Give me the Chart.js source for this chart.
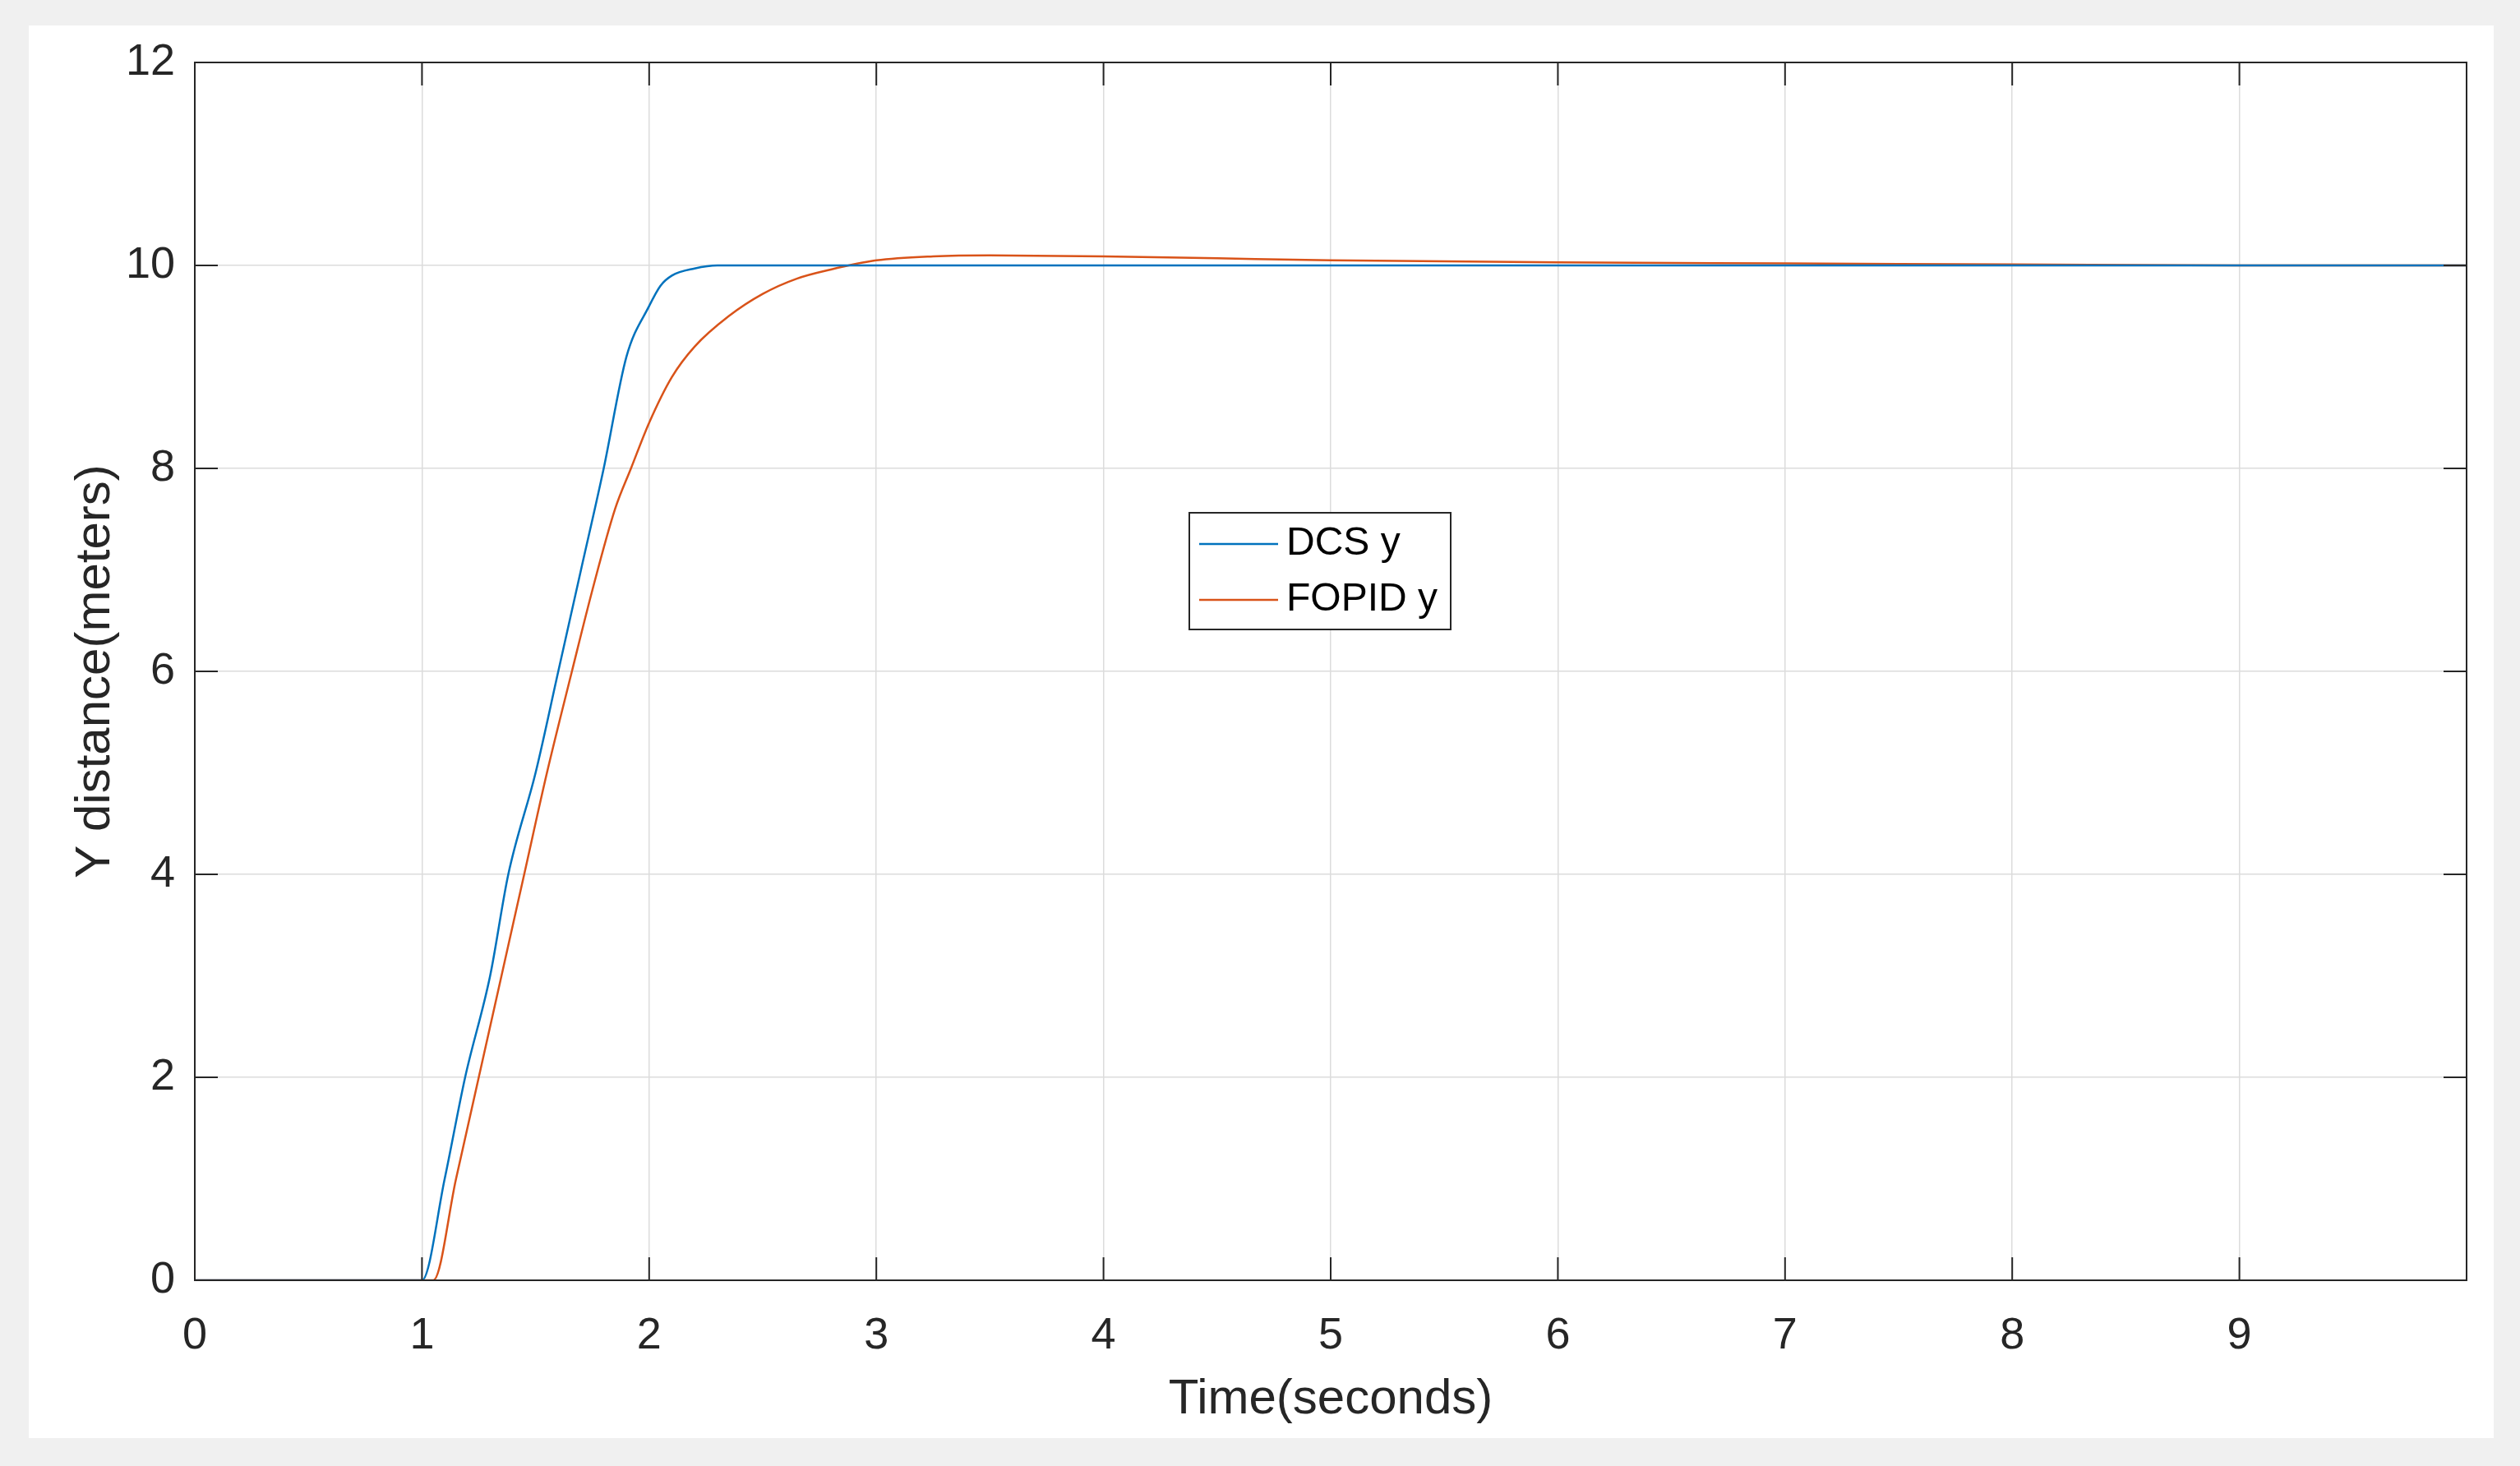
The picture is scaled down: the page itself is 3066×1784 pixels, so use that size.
<!DOCTYPE html>
<html><head><meta charset="utf-8">
<script src="https://cdn.jsdelivr.net/npm/chart.js@4"></script>
<style>html,body{margin:0;padding:0;background:#f0f0f0;overflow:hidden}canvas{display:block}</style>
</head><body>
<canvas id="c" width="3066" height="1784"></canvas>
<script>
const dcsT = [0, 0.99, 1.0, 1.1, 1.19, 1.3, 1.38, 1.5, 1.6, 1.7, 1.8, 1.9, 2.0, 2.05, 2.1, 2.2, 2.3, 2.5, 3, 4, 5, 6, 7, 8, 9, 10];
const dcsY = [0, 0, 0, 1.0, 2.0, 3.0, 4.0, 5.0, 6.0, 7.0, 8.0, 9.1, 9.6, 9.8, 9.9, 9.97, 10.0, 10.0, 10.0, 10.0, 10.0, 10.0, 10.0, 10.0, 10.0, 10.0];
const fopT = [0, 1.04, 1.05, 1.15, 1.25, 1.35, 1.45, 1.55, 1.66, 1.75, 1.85, 1.92, 2.0, 2.1, 2.2, 2.35, 2.5, 2.65, 2.8, 3.0, 3.25, 3.5, 4, 4.5, 5, 6, 7, 8, 9, 10];
const fopY = [0, 0, 0, 1.0, 2.0, 3.0, 4.0, 5.0, 6.0, 6.8, 7.6, 8.0, 8.45, 8.9, 9.2, 9.5, 9.72, 9.87, 9.96, 10.05, 10.09, 10.1, 10.09, 10.07, 10.05, 10.03, 10.02, 10.01, 10.0, 10.0];
const xTicks = [0,1,2,3,4,5,6,7,8,9];
const yTicks = [0,2,4,6,8,10,12];
const labels = ['DCS y', 'FOPID y'];
const colors = ['#0072BD', '#D95319'];

const toPts = (t, y) => t.map((v, i) => ({x: v, y: y[i]}));
const FONT = '"Liberation Sans", Arial, sans-serif';
const TC = '#262626';

const deco = {
  id: 'deco',
  beforeDraw(ch) {
    const c = ch.ctx;
    c.save();
    c.fillStyle = '#f0f0f0'; c.fillRect(0, 0, ch.width, ch.height);
    c.fillStyle = '#ffffff'; c.fillRect(35, 31, 2999, 1719);
    c.restore();
  },
  afterDatasetsDraw(ch) {
    const c = ch.ctx, a = ch.chartArea, xs = ch.scales.x, ys = ch.scales.y;
    c.save();
    c.strokeStyle = TC; c.lineWidth = 2;
    c.strokeRect(a.left, a.top, a.right - a.left, a.bottom - a.top);
    c.beginPath();
    xTicks.forEach(v => { const p = xs.getPixelForValue(v);
      c.moveTo(p, a.bottom); c.lineTo(p, a.bottom - 28); c.moveTo(p, a.top); c.lineTo(p, a.top + 28); });
    yTicks.forEach(v => { const p = ys.getPixelForValue(v);
      c.moveTo(a.left, p); c.lineTo(a.left + 28, p); c.moveTo(a.right, p); c.lineTo(a.right - 28, p); });
    c.stroke();
    const lx = 1447, ly = 624, lw = 318, lh = 142;
    c.fillStyle = '#fff'; c.fillRect(lx, ly, lw, lh);
    c.strokeStyle = TC; c.lineWidth = 2; c.strokeRect(lx, ly, lw, lh);
    c.font = '48px ' + FONT; c.textBaseline = 'middle'; c.fillStyle = '#000';
    ch.data.datasets.forEach((d, i) => {
      const yy = ly + 38 + i * 68;
      c.strokeStyle = d.borderColor; c.lineWidth = 2.5;
      c.beginPath(); c.moveTo(lx + 12, yy); c.lineTo(lx + 108, yy); c.stroke();
      c.fillText(d.label, lx + 118, yy);
    });
    c.restore();
  }
};

new Chart(document.getElementById('c'), {
  type: 'line',
  data: { datasets: [
    { label: labels[0], data: toPts(dcsT, dcsY), borderColor: colors[0], borderWidth: 2.5, pointRadius: 0, cubicInterpolationMode: 'monotone', fill: false },
    { label: labels[1], data: toPts(fopT, fopY), borderColor: colors[1], borderWidth: 2.5, pointRadius: 0, cubicInterpolationMode: 'monotone', fill: false }
  ]},
  options: {
    responsive: false, devicePixelRatio: 1, animation: false,
    layout: { padding: { left: 35, top: 76, right: 65, bottom: 45 } },
    plugins: { legend: { display: false }, tooltip: { enabled: false } },
    scales: {
      x: { type: 'linear', min: 0, max: 10,
        afterBuildTicks: s => { s.ticks = xTicks.map(v => ({value: v})); },
        afterFit: s => { s.height = 181; },
        grid: { color: '#dcdcdc', lineWidth: 1.5, drawTicks: false },
        border: { display: false },
        ticks: { color: TC, font: { size: 54, family: FONT }, padding: 36, maxRotation: 0 },
        title: { display: true, text: 'Time(seconds)', color: TC, font: { size: 60, family: FONT }, padding: { top: 0, bottom: 0 } }
      },
      y: { min: 0, max: 12,
        afterBuildTicks: s => { s.ticks = yTicks.map(v => ({value: v})); },
        afterFit: s => { s.width = 202; },
        grid: { color: '#dcdcdc', lineWidth: 1.5, drawTicks: false },
        border: { display: false },
        ticks: { color: TC, font: { size: 54, family: FONT }, padding: 24 },
        title: { display: true, text: 'Y distance(meters)', color: TC, font: { size: 60, family: FONT }, padding: { top: 45, bottom: 0 } }
      }
    }
  },
  plugins: [deco]
});
</script>
</body></html>
